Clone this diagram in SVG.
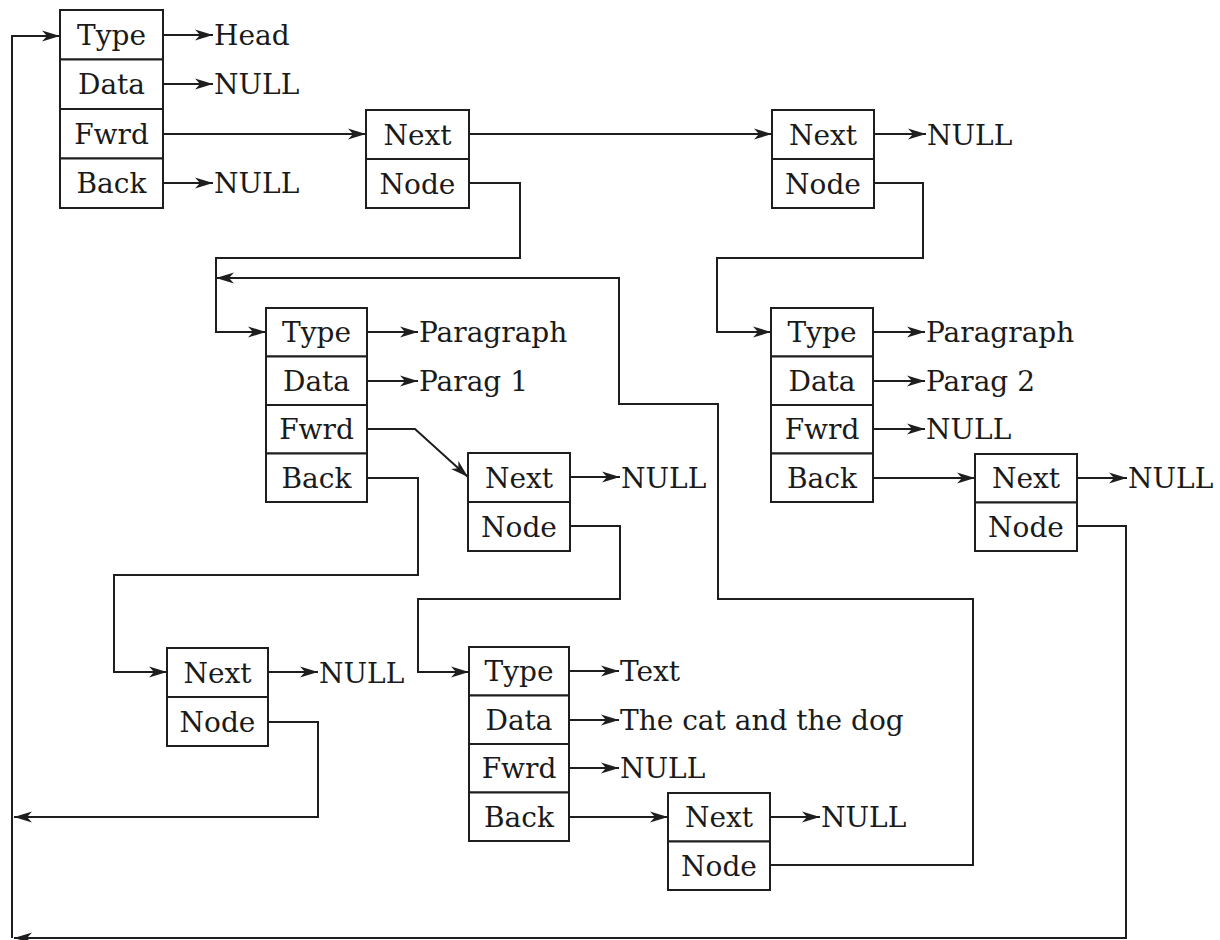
<svg xmlns="http://www.w3.org/2000/svg" width="1220" height="940" viewBox="0 0 1220 940">
  <style>
    .box { fill: #ffffff; stroke: #1e1e1e; stroke-width: 2; }
    .lbl { font-family: "DejaVu Serif", "Liberation Serif", serif; font-size: 28px; fill: #1a1a1a; text-anchor: middle; }
    .val { font-family: "DejaVu Serif", "Liberation Serif", serif; font-size: 28px; fill: #1a1a1a; text-anchor: start; }
    .arr { fill: none; stroke: #1e1e1e; stroke-width: 2; marker-end: url(#ah); }
  </style>
  <defs>
    <marker id="ah" markerUnits="userSpaceOnUse" markerWidth="20" markerHeight="12" refX="18" refY="6" orient="auto">
      <path d="M0,0.5 L18,6 L0,11.5 L5,6 Z" fill="#1e1e1e"/>
    </marker>
  </defs>
  <rect width="1220" height="940" fill="#ffffff"/>

  <g id="connectors">
    <path class="arr" d="M12,938 V36 H60"/>
    <path class="arr" d="M163,35 H213"/>
    <path class="arr" d="M163,84 H213"/>
    <path class="arr" d="M163,134 H366"/>
    <path class="arr" d="M163,183 H213"/>
    <path class="arr" d="M469,134 H772"/>
    <path class="arr" d="M469,183 H520 V258 H216 V332 H266"/>
    <path class="arr" d="M874,134 H926"/>
    <path class="arr" d="M874,183 H923 V258 H717 V332 H771"/>
    <path class="arr" d="M367,332 H418"/>
    <path class="arr" d="M367,381 H418"/>
    <path class="arr" d="M367,429 H415 L468,477"/>
    <path class="arr" d="M367,478 H418 V575 H114 V672 H167"/>
    <path class="arr" d="M873,332 H925"/>
    <path class="arr" d="M873,381 H925"/>
    <path class="arr" d="M873,429 H925"/>
    <path class="arr" d="M873,478 H975"/>
    <path class="arr" d="M570,477 H620"/>
    <path class="arr" d="M570,526 H620 V599 H418 V672 H469"/>
    <path class="arr" d="M1077,478 H1127"/>
    <path class="arr" d="M1077,526 H1126 V938 H14"/>
    <path class="arr" d="M268,672 H318"/>
    <path class="arr" d="M268,722 H318 V817 H14"/>
    <path class="arr" d="M569,671 H619"/>
    <path class="arr" d="M569,720 H619"/>
    <path class="arr" d="M569,768 H619"/>
    <path class="arr" d="M569,817 H668"/>
    <path class="arr" d="M770,817 H820"/>
    <path class="arr" d="M770,865 H973 V599 H718 V404 H619 V278 H216"/>
  </g>

  <g id="node-head">
    <rect class="box" x="60" y="10" width="103" height="49.5"/>
    <rect class="box" x="60" y="59.5" width="103" height="49.5"/>
    <rect class="box" x="60" y="109" width="103" height="49.5"/>
    <rect class="box" x="60" y="158.5" width="103" height="49.5"/>
    <text class="lbl" x="111.5" y="45">Type</text>
    <text class="lbl" x="111.5" y="94">Data</text>
    <text class="lbl" x="111.5" y="144">Fwrd</text>
    <text class="lbl" x="111.5" y="193">Back</text>
    <text class="val" x="214" y="45">Head</text>
    <text class="val" x="214" y="94">NULL</text>
    <text class="val" x="214" y="193">NULL</text>
  </g>

  <g id="node-next1">
    <rect class="box" x="366" y="110" width="103" height="49"/>
    <rect class="box" x="366" y="159" width="103" height="49"/>
    <text class="lbl" x="417.5" y="144.5">Next</text>
    <text class="lbl" x="417.5" y="193.5">Node</text>
  </g>

  <g id="node-next2">
    <rect class="box" x="772" y="110" width="102" height="49"/>
    <rect class="box" x="772" y="159" width="102" height="49"/>
    <text class="lbl" x="823" y="144.5">Next</text>
    <text class="lbl" x="823" y="193.5">Node</text>
    <text class="val" x="927" y="144.5">NULL</text>
  </g>

  <g id="node-paragraph1">
    <rect class="box" x="266" y="308" width="101" height="48.5"/>
    <rect class="box" x="266" y="356.5" width="101" height="48.5"/>
    <rect class="box" x="266" y="405" width="101" height="48.5"/>
    <rect class="box" x="266" y="453.5" width="101" height="48.5"/>
    <text class="lbl" x="316.5" y="342">Type</text>
    <text class="lbl" x="316.5" y="391">Data</text>
    <text class="lbl" x="316.5" y="439">Fwrd</text>
    <text class="lbl" x="316.5" y="488">Back</text>
    <text class="val" x="419" y="342">Paragraph</text>
    <text class="val" x="419" y="391">Parag 1</text>
  </g>

  <g id="node-paragraph2">
    <rect class="box" x="771" y="308" width="102" height="48.5"/>
    <rect class="box" x="771" y="356.5" width="102" height="48.5"/>
    <rect class="box" x="771" y="405" width="102" height="48.5"/>
    <rect class="box" x="771" y="453.5" width="102" height="48.5"/>
    <text class="lbl" x="822" y="342">Type</text>
    <text class="lbl" x="822" y="391">Data</text>
    <text class="lbl" x="822" y="439">Fwrd</text>
    <text class="lbl" x="822" y="488">Back</text>
    <text class="val" x="926" y="342">Paragraph</text>
    <text class="val" x="926" y="391">Parag 2</text>
    <text class="val" x="926" y="439">NULL</text>
  </g>

  <g id="node-next4">
    <rect class="box" x="468" y="453" width="102" height="49"/>
    <rect class="box" x="468" y="502" width="102" height="49"/>
    <text class="lbl" x="519" y="487.5">Next</text>
    <text class="lbl" x="519" y="536.5">Node</text>
    <text class="val" x="621" y="487.5">NULL</text>
  </g>

  <g id="node-next3">
    <rect class="box" x="975" y="454" width="102" height="48.5"/>
    <rect class="box" x="975" y="502.5" width="102" height="48.5"/>
    <text class="lbl" x="1026" y="488">Next</text>
    <text class="lbl" x="1026" y="537">Node</text>
    <text class="val" x="1128" y="488">NULL</text>
  </g>

  <g id="node-next5">
    <rect class="box" x="167" y="648" width="101" height="49"/>
    <rect class="box" x="167" y="697" width="101" height="49"/>
    <text class="lbl" x="217.5" y="682.5">Next</text>
    <text class="lbl" x="217.5" y="731.5">Node</text>
    <text class="val" x="319" y="682.5">NULL</text>
  </g>

  <g id="node-text">
    <rect class="box" x="469" y="647" width="100" height="48.5"/>
    <rect class="box" x="469" y="695.5" width="100" height="48.5"/>
    <rect class="box" x="469" y="744" width="100" height="48.5"/>
    <rect class="box" x="469" y="792.5" width="100" height="48.5"/>
    <text class="lbl" x="519" y="681">Type</text>
    <text class="lbl" x="519" y="730">Data</text>
    <text class="lbl" x="519" y="778">Fwrd</text>
    <text class="lbl" x="519" y="827">Back</text>
    <text class="val" x="620" y="681">Text</text>
    <text class="val" x="620" y="730">The cat and the dog</text>
    <text class="val" x="620" y="778">NULL</text>
  </g>

  <g id="node-next6">
    <rect class="box" x="668" y="793" width="102" height="48.5"/>
    <rect class="box" x="668" y="841.5" width="102" height="48.5"/>
    <text class="lbl" x="719" y="827">Next</text>
    <text class="lbl" x="719" y="876">Node</text>
    <text class="val" x="821" y="827">NULL</text>
  </g>
</svg>
